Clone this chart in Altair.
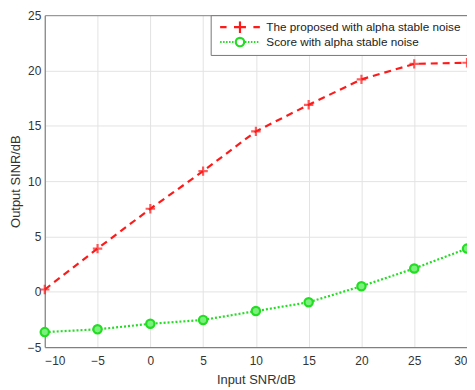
import altair as alt
import pandas as pd

snr = [-10, -5, 0, 5, 10, 15, 20, 25, 30]
proposed = [0.2, 3.9, 7.5, 10.9, 14.5, 16.9, 19.2, 20.6, 20.7]
score = [-3.65, -3.4, -2.9, -2.55, -1.75, -0.95, 0.5, 2.1, 3.9]
series_names = ["The proposed with alpha stable noise", "Score with alpha stable noise"]
colors = ["#ff1a1a", "#22dd22"]

rows = []
for x, a, b in zip(snr, proposed, score):
    rows.append({"snr": x, "val": a, "series": series_names[0]})
    rows.append({"snr": x, "val": b, "series": series_names[1]})
df = pd.DataFrame(rows)

FONT = "Liberation Sans"
FRAME = "#808080"
GRID = "#e3e3e3"

xs = alt.X("snr:Q", title="Input SNR/dB",
           scale=alt.Scale(domain=[-10, 30], nice=False),
           axis=alt.Axis(values=list(range(-10, 31, 5)), grid=True, ticks=False,
                         domain=True, domainColor=FRAME, labelPadding=9, titlePadding=7,
                         gridColor={"condition": {"test": "datum.value === 30", "value": FRAME},
                                    "value": GRID}))
ys = alt.Y("val:Q", title="Output SINR/dB",
           scale=alt.Scale(domain=[-5, 25], nice=False),
           axis=alt.Axis(values=list(range(-5, 26, 5)), grid=True, ticks=False,
                         domain=True, domainColor=FRAME, labelPadding=4, titlePadding=5,
                         gridColor={"condition": {"test": "datum.value === 25", "value": FRAME},
                                    "value": GRID}))

d1 = df[df.series == series_names[0]]
d2 = df[df.series == series_names[1]]

line1 = alt.Chart(d1).mark_line(strokeDash=[7, 5], strokeWidth=2.2, color=colors[0]).encode(x=xs, y=ys)
line2 = alt.Chart(d2).mark_line(strokeDash=[2, 2], strokeWidth=2.2, color=colors[1]).encode(x=xs, y=ys)
pts1 = alt.Chart(d1).mark_point(shape="M-1,0H1M0,-1V1", size=90, strokeWidth=2.2,
                                 color=colors[0], filled=False).encode(x=xs, y=ys)
pts2 = alt.Chart(d2).mark_point(shape="circle", size=70, strokeWidth=2.2,
                                 stroke=colors[1], fill="#7cf07c", fillOpacity=1,
                                 filled=True).encode(x=xs, y=ys)

# legend glyphs (line sample + marker), in symbol units (5 px per unit at size 100)
def dots(a, b, step=0.6, length=0.3):
    out, v = [], a
    while v < b - 1e-9:
        out.append(f"M{v:.2f},0H{v + length:.2f}")
        v += step
    return "".join(out)

leg_paths = [
    "M-4,0H-2.7M2.7,0H4M-1.2,0H1.2M0,-1.2V1.2",
    dots(-4, -0.9) + dots(1.0, 4) + "M0.85,0A0.85,0.85 0 1 1 -0.85,0A0.85,0.85 0 1 1 0.85,0",
]
leg = alt.Legend(title=None, orient="top-right", offset=0,
                 symbolOpacity=1, symbolSize=100, symbolStrokeWidth=2.2,
                 labelFont=FONT, labelFontSize=11.8, labelColor="#222", labelLimit=400,
                 fillColor="white", strokeColor="#777", padding=6, clipHeight=12,
                 rowPadding=2, labelOffset=20, symbolOffset=17)
legend_layer = alt.Chart(df).mark_point(opacity=0, filled=False, strokeWidth=2.2).encode(
    x=xs, y=ys,
    shape=alt.Shape("series:N", scale=alt.Scale(domain=series_names, range=leg_paths), legend=leg),
    color=alt.Color("series:N", scale=alt.Scale(domain=series_names, range=colors), legend=leg),
)

chart = alt.layer(line1, line2, pts1, pts2, legend_layer).properties(
    width=425, height=334,
    autosize=alt.AutoSizeParams(type="none"),
    padding={"left": 37, "top": 6, "right": 0, "bottom": 42},
).configure_view(stroke=None).configure_axis(
    labelFont=FONT, titleFont=FONT, labelFontSize=12, titleFontSize=13,
    labelColor="#333", titleColor="#333", titleFontWeight="normal",
    gridWidth=1, domainWidth=1.2,
)

chart.save("out.html", embed_options={"renderer": "svg", "actions": False})
